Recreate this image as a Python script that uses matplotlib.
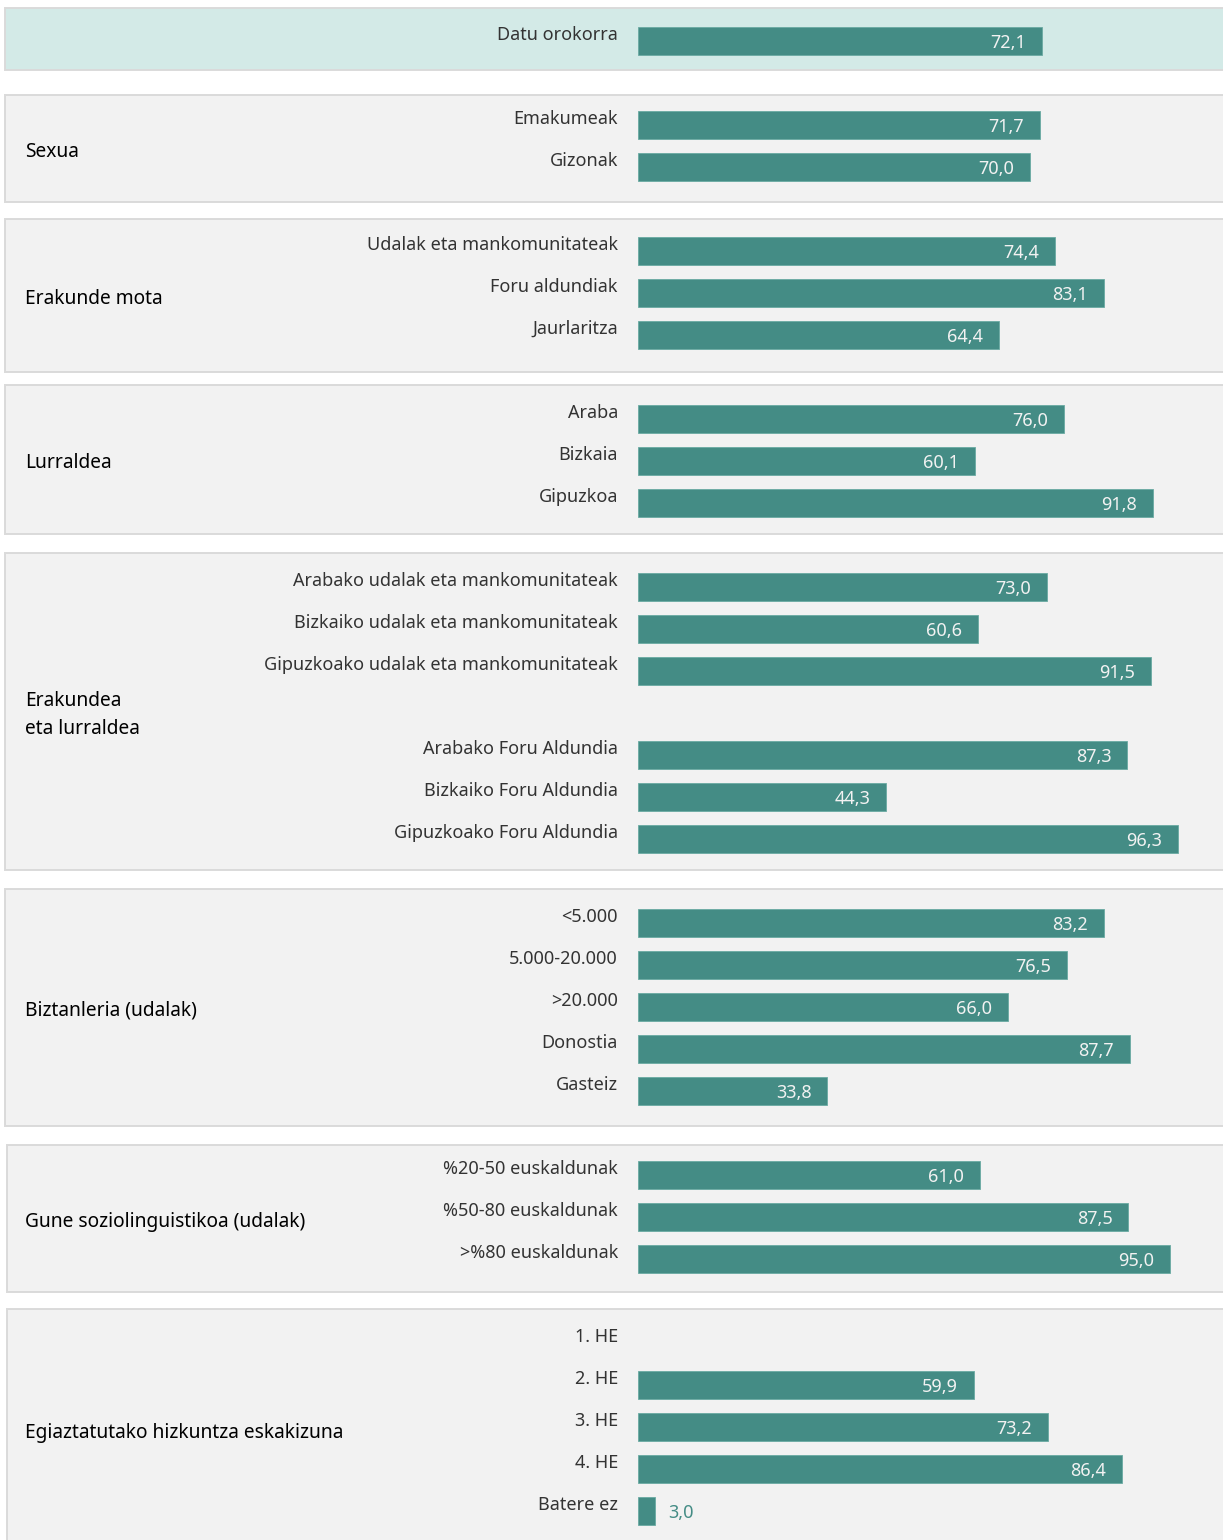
import matplotlib
matplotlib.use('Agg')
import matplotlib.pyplot as plt
from matplotlib.patches import Rectangle
import matplotlib.transforms as mtransforms

# ---------------- data ----------------
group_titles = ["", "Sexua", "Erakunde mota", "Lurraldea", "Erakundea\neta lurraldea",
                "Biztanleria (udalak)", "Gune soziolinguistikoa (udalak)",
                "Egiaztatutako hizkuntza eskakizuna"]

labels_overall = ["Datu orokorra"]
values_overall = [72.1]

labels_sexua = ["Emakumeak", "Gizonak"]
values_sexua = [71.7, 70.0]

labels_erakunde = ["Udalak eta mankomunitateak", "Foru aldundiak", "Jaurlaritza"]
values_erakunde = [74.4, 83.1, 64.4]

labels_lurraldea = ["Araba", "Bizkaia", "Gipuzkoa"]
values_lurraldea = [76.0, 60.1, 91.8]

labels_erak_lurr = ["Arabako udalak eta mankomunitateak", "Bizkaiko udalak eta mankomunitateak",
                    "Gipuzkoako udalak eta mankomunitateak", "",
                    "Arabako Foru Aldundia", "Bizkaiko Foru Aldundia", "Gipuzkoako Foru Aldundia"]
values_erak_lurr = [73.0, 60.6, 91.5, None, 87.3, 44.3, 96.3]

labels_biztanleria = ["<5.000", "5.000-20.000", ">20.000", "Donostia", "Gasteiz"]
values_biztanleria = [83.2, 76.5, 66.0, 87.7, 33.8]

labels_gune = ["%20-50 euskaldunak", "%50-80 euskaldunak", ">%80 euskaldunak"]
values_gune = [61.0, 87.5, 95.0]

labels_he = ["1. HE", "2. HE", "3. HE", "4. HE", "Batere ez"]
values_he = [None, 59.9, 73.2, 86.4, 3.0]

group_labels = [labels_overall, labels_sexua, labels_erakunde, labels_lurraldea,
                labels_erak_lurr, labels_biztanleria, labels_gune, labels_he]
group_values = [values_overall, values_sexua, values_erakunde, values_lurraldea,
                values_erak_lurr, values_biztanleria, values_gune, values_he]

# ---------------- layout / style ----------------
W, H, DPI = 1223, 1540, 100
BAR_X0_PX = 638          # pixel where value 0 sits
PX_PER_UNIT = 5.605      # pixels per percentage point
ROW_PX = 42              # pixel distance between rows
ROW0_PX = 41             # pixel y of first row centre
BOX_TOP_PAD_PX = [33, 30, 32, 34, 34, 34, 30, 34]
BOX_BOT_PAD_PX = [29, 35, 37, 31, 31, 35, 33, 39]
BOX_LEFT_PX = [5, 5, 5, 5, 5, 5, 7, 7]
BAR_COLOR = "#448c85"
BOX_FILL = "#f2f2f2"
BOX_FILL_FIRST = "#d3eae7"
BOX_EDGE = "#dadada"
LABEL_COLOR = "#333333"
FONT = ["Noto Sans", "DejaVu Sans"]

plt.rcParams['font.family'] = FONT

fig = plt.figure(figsize=(W / DPI, H / DPI), dpi=DPI)
ax = fig.add_axes([0, 0, 1, 1])
ax.set_xlim(-BAR_X0_PX / PX_PER_UNIT, (W - BAR_X0_PX) / PX_PER_UNIT)
ax.set_ylim((H - ROW0_PX) / ROW_PX, -ROW0_PX / ROW_PX)
ax.axis('off')

blend = mtransforms.blended_transform_factory(ax.transAxes, ax.transData)
px = 72 / DPI  # points per pixel

row = 0
for gi, (labs, vals) in enumerate(zip(group_labels, group_values)):
    first = row
    rows = list(range(row, row + len(labs)))
    last = rows[-1]
    # group box
    top = first - BOX_TOP_PAD_PX[gi] / ROW_PX
    bottom = last + BOX_BOT_PAD_PX[gi] / ROW_PX
    rect = Rectangle((BOX_LEFT_PX[gi] / W, top), 1.05, bottom - top, transform=blend,
                     facecolor=BOX_FILL_FIRST if gi == 0 else BOX_FILL,
                     edgecolor=BOX_EDGE, linewidth=1.4, zorder=0, clip_on=False)
    ax.add_patch(rect)
    if group_titles[gi]:
        ycen = (top + bottom) / 2
        ax.annotate(group_titles[gi], xy=(25 / W, ycen), xycoords=blend,
                    xytext=(0, -3.5 * px), textcoords='offset points',
                    ha='left', va='center', fontsize=13.8, color='black',
                    linespacing=1.56)
    # bars
    bar_rows = [r for r, v in zip(rows, vals) if v is not None]
    bar_vals = [v for v in vals if v is not None]
    ax.barh(bar_rows, bar_vals, height=0.667, color=BAR_COLOR,
            edgecolor="#6aaaa2", linewidth=0.6, zorder=2)
    for r, lab, v in zip(rows, labs, vals):
        if lab:
            ax.annotate(lab, xy=(0, r), xytext=(-20 * px, 1 * px),
                        textcoords='offset points', ha='right', va='baseline',
                        fontsize=13, color=LABEL_COLOR)
        if v is None:
            continue
        txt = f"{v:.1f}".replace('.', ',')
        if v > 10:
            ax.annotate(txt, xy=(v, r), xytext=(-16 * px, -2 * px),
                        textcoords='offset points', ha='right', va='center',
                        fontsize=13, color='#f2f2f2', zorder=3)
        else:
            ax.annotate(txt, xy=(v, r), xytext=(13 * px, -2 * px),
                        textcoords='offset points', ha='left', va='center',
                        fontsize=13, color=BAR_COLOR, zorder=3)
    row = last + 2

fig.savefig("out.png", dpi=DPI, facecolor='white')
